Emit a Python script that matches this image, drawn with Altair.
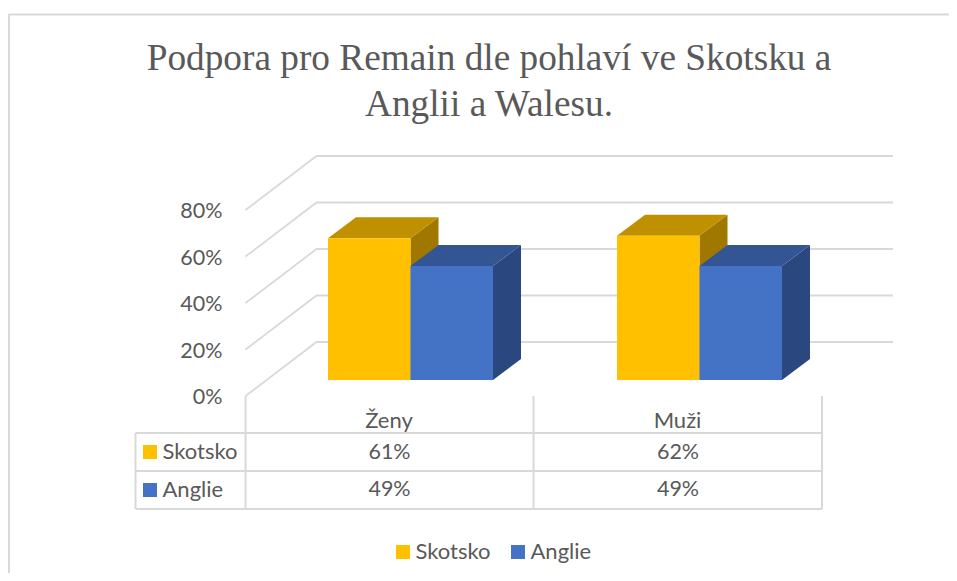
import altair as alt
import pandas as pd

# --- chart values -------------------------------------------------------
title_lines = ["Podpora pro Remain dle pohlaví ve Skotsku a", "Anglii a Walesu."]
categories = ["Ženy", "Muži"]
series = ["Skotsko", "Anglie"]
skotsko = [61, 62]
anglie = [49, 49]
axis_ticks = [0, 20, 40, 60, 80]
front_colors = ["#FFC000", "#4472C4"]
top_colors = ["#BF9000", "#335593"]
side_colors = ["#A07800", "#2A4780"]
values = [skotsko, anglie]

# --- projection of the 3-D look ----------------------------------------
PX_PER_PCT = 2.325
Y0 = 396.0


def pct(page_y):
    """Page pixel row -> position on the percent scale."""
    return (Y0 - page_y) / PX_PER_PCT


BAR_LIFT = 16 / PX_PER_PCT
BAR_DX, BAR_DY = 28, 21 / PX_PER_PCT
WALL_DX, WALL_DY = 71, 54 / PX_PER_PCT
LEFT, RIGHT = 245.5, 893
group_x = [328, 617]
BAR_W = 82.5

x_scale = alt.Scale(domain=[8, 949], range=[0, 941], nice=False, zero=False)
y_scale = alt.Scale(domain=[pct(573), pct(8)], nice=False, zero=False)
X = lambda f: alt.X(f, type="quantitative", scale=x_scale, axis=None)
Y = lambda f: alt.Y(f, type="quantitative", scale=y_scale, axis=None)
GRID = "#D9D9D9"
TEXT = "#595959"
BODY = "Lato"

# gridlines: diagonal on the side wall + horizontal on the back wall
grid_rows = []
for t in axis_ticks:
    grid_rows += [
        dict(g=t, o=0, x=LEFT, y=t),
        dict(g=t, o=1, x=LEFT + WALL_DX, y=t + WALL_DY),
        dict(g=t, o=2, x=RIGHT, y=t + WALL_DY),
    ]
grid = alt.Chart(pd.DataFrame(grid_rows)).mark_line(color=GRID, strokeWidth=1.8).encode(
    x=X("x"), y=Y("y"), detail="g:N", order="o:Q"
)

# bar faces
fronts, sides, tops = [], [], []
for c, gx in enumerate(group_x):
    for s in range(len(series)):
        v = values[s][c]
        x0 = gx + s * BAR_W
        x1 = x0 + BAR_W
        base = BAR_LIFT
        top = v + BAR_LIFT
        key = f"{c}-{s}"
        fronts.append(dict(x=x0, x2=x1, y=base, y2=top, fill=front_colors[s]))
        sides += [
            dict(k=key, x=x1, y=top, y2=base, fill=side_colors[s]),
            dict(k=key, x=x1 + BAR_DX, y=top + BAR_DY, y2=base + BAR_DY, fill=side_colors[s]),
        ]
        tops += [
            dict(k=key, y=top, x=x0, x2=x1, fill=top_colors[s]),
            dict(k=key, y=top + BAR_DY, x=x0 + BAR_DX, x2=x1 + BAR_DX, fill=top_colors[s]),
        ]

fill = alt.Color("fill:N", scale=None)
side_layer = alt.Chart(pd.DataFrame(sides)).mark_area().encode(
    x=X("x"), y=Y("y"), y2="y2", detail="k:N", color=fill
)
top_layer = alt.Chart(pd.DataFrame(tops)).mark_area(orient="horizontal").encode(
    y=Y("y"), x=X("x"), x2="x2", detail="k:N", color=fill
)
front_layer = alt.Chart(pd.DataFrame(fronts)).mark_rect().encode(
    x=X("x"), x2="x2", y=Y("y"), y2="y2", color=fill
)

# data table and chart frame lines
T_L, T_0, T_R = 135.5, 245.5, 822
col_x = [T_0, 533.5, T_R]
row_y = [433, 471, 509]
rules = []
for yy in row_y:
    rules.append(dict(x=T_L, x2=T_R, y=pct(yy), y2=pct(yy), w=2, c=GRID))
for xx in col_x:
    rules.append(dict(x=xx, x2=xx, y=pct(396), y2=pct(row_y[-1]), w=2, c=GRID))
rules.append(dict(x=T_L, x2=T_L, y=pct(row_y[0]), y2=pct(row_y[-1]), w=2, c=GRID))
rules.append(dict(x=9, x2=949, y=pct(14.5), y2=pct(14.5), w=2, c=GRID))
rules.append(dict(x=9, x2=9, y=pct(14), y2=pct(573), w=2, c=GRID))
rule_layer = alt.Chart(pd.DataFrame(rules)).mark_rule().encode(
    x=X("x"), x2="x2", y=Y("y"), y2="y2",
    strokeWidth=alt.StrokeWidth("w:Q", scale=None),
    color=alt.Color("c:N", scale=None),
)

# text
centers = [389.5, 678]
texts = []
for line, yy in zip(title_lines, [59, 105]):
    texts.append(dict(t=line, x=489, y=pct(yy), a="center", f="Liberation Serif", s=37.3))
for t in axis_ticks:
    texts.append(dict(t=f"{t}%", x=222.5, y=t - 0.9, a="right", f=BODY, s=21.5))
for c, cx in enumerate(centers):
    texts.append(dict(t=categories[c], x=cx - 0.5, y=pct(421), a="center", f=BODY, s=22))
    for s, yy in enumerate([452.5, 490]):
        texts.append(dict(t=f"{values[s][c]}%", x=cx, y=pct(yy), a="center", f=BODY, s=21.5))
for s, yy in enumerate([452, 490]):
    texts.append(dict(t=series[s], x=162.5, y=pct(yy), a="left", f=BODY, s=22))
for s, xx in enumerate([415.5, 530.5]):
    texts.append(dict(t=series[s], x=xx, y=pct(552), a="left", f=BODY, s=22))

text_layers = []
tdf = pd.DataFrame(texts)
for (a, f, s), part in tdf.groupby(["a", "f", "s"]):
    text_layers.append(
        alt.Chart(part).mark_text(align=a, baseline="middle", font=f, fontSize=float(s), color=TEXT).encode(
            x=X("x"), y=Y("y"), text="t:N"
        )
    )

# colour keys
keys = []
for s, yy in enumerate([445, 483]):
    keys.append(dict(x=143, x2=157, y=pct(yy), y2=pct(yy + 14), fill=front_colors[s]))
for s, xx in enumerate([396, 511]):
    keys.append(dict(x=xx, x2=xx + 14, y=pct(545), y2=pct(559), fill=front_colors[s]))
key_layer = alt.Chart(pd.DataFrame(keys)).mark_rect().encode(
    x=X("x"), x2="x2", y=Y("y"), y2="y2", color=fill
)

chart = alt.layer(
    grid, rule_layer, side_layer, top_layer, front_layer, key_layer, *text_layers
).properties(
    width=941, height=565, padding=0, background="white",
    autosize=alt.AutoSizeParams(type="none"),
).configure_view(stroke=None)

chart.save("out.html", embed_options={"renderer": "svg", "actions": False})
